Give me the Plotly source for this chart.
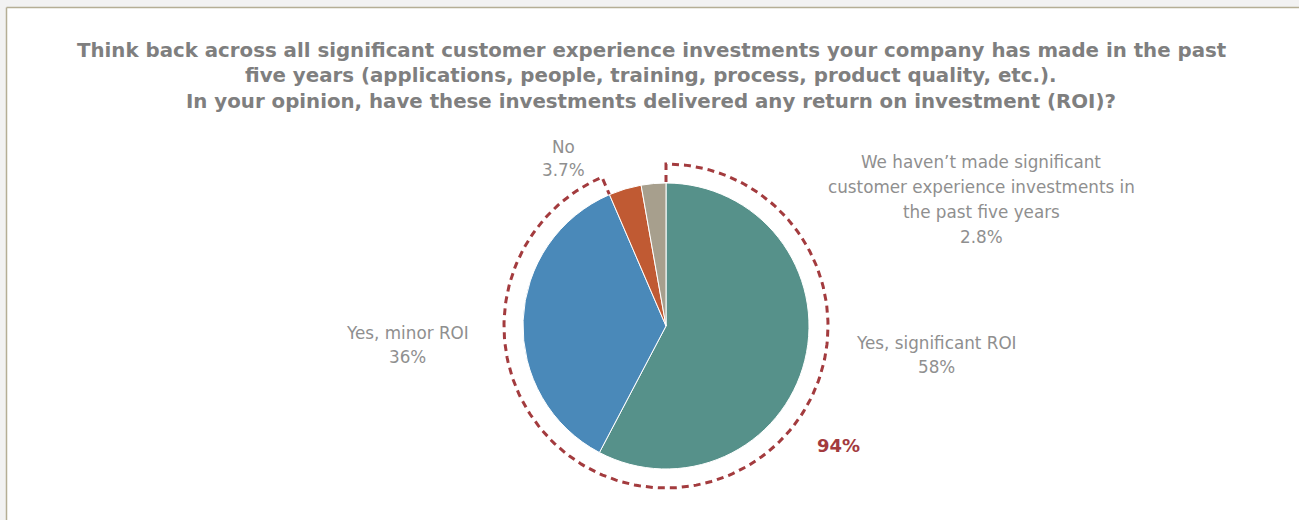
import numpy as np
import plotly.graph_objects as go

W, H = 1299, 520

# Survey answers (clockwise from 12 o'clock)
categories = [
    "Yes, significant ROI",
    "Yes, minor ROI",
    "No",
    "We haven\u2019t made significant customer experience investments in the past five years",
]
shares = [58, 36, 3.7, 2.8]
label_lines = [
    ["Yes, significant ROI"],
    ["Yes, minor ROI"],
    ["No"],
    ["We haven\u2019t made significant", "customer experience investments in", "the past five years"],
]
value_text = ["58%", "36%", "3.7%", "2.8%"]
colors = ["#56918A", "#4A89B9", "#C05A33", "#A79F8D"]
highlight_total = "94%"

title_lines = [
    "Think back across all significant customer experience investments your company has made in the past",
    "five years (applications, people, training, process, product quality, etc.).",
    "In your opinion, have these investments delivered any return on investment (ROI)?",
]

# pie geometry in pixels
cx, cy, r = 666, 326, 143
ring_r = 162

TITLE_FONT = "DejaVu Sans"
LABEL_FONT = "DejaVu Sans"
GREY = "#8f8f8f"
RED = "#A33B3E"

fig = go.Figure()

fig.add_trace(go.Pie(
    labels=categories,
    values=shares,
    sort=False,
    direction="clockwise",
    rotation=0,
    marker=dict(colors=colors, line=dict(color="white", width=1)),
    textinfo="none",
    hoverinfo="label+percent",
    showlegend=False,
    domain=dict(x=[(cx - r) / W, (cx + r) / W], y=[1 - (cy + r) / H, 1 - (cy - r) / H]),
))

# dashed outline around the "yes" slices: radial line up, arc clockwise, radial line back
yes_frac = (shares[0] + shares[1]) / sum(shares)
theta = np.linspace(0, 2 * np.pi * yes_frac, 200)
px = np.concatenate([[cx], cx + ring_r * np.sin(theta), [cx]])
py = np.concatenate([[cy], cy - ring_r * np.cos(theta), [cy]])
fig.add_trace(go.Scatter(
    x=px, y=py, mode="lines",
    line=dict(color=RED, width=3, dash="7px,5px"),
    hoverinfo="skip", showlegend=False,
))

annotations = []


def add_block(lines, x, y0, step, size, color, family, bold=False):
    for i, t in enumerate(lines):
        txt = f"<b>{t}</b>" if bold else t
        annotations.append(dict(
            x=x, y=y0 + i * step, xref="x", yref="y", text=txt, showarrow=False,
            xanchor="center", yanchor="middle",
            font=dict(family=family, size=size, color=color),
        ))


add_block(title_lines, 651, 50, 25.5, 19.8, "#7f7f7f", TITLE_FONT, bold=True)

label_pos = [(936, 343, 24), (407, 333, 24), (563, 147, 23), (981, 162, 25)]
for lines, val, (x, y, step) in zip(label_lines, value_text, label_pos):
    add_block(lines + [val], x, y, step, 16.8, GREY, LABEL_FONT)

add_block([highlight_total], 838, 445, 25, 18, RED, TITLE_FONT, bold=True)

# frame: grey outer strip with a thin border line
shapes = [
    dict(type="rect", xref="x", yref="y", x0=0, x1=W, y0=0, y1=7, fillcolor="#f2f2f2", line_width=0, layer="below"),
    dict(type="rect", xref="x", yref="y", x0=0, x1=6, y0=0, y1=H, fillcolor="#f2f2f2", line_width=0, layer="below"),
    dict(type="line", xref="x", yref="y", x0=6.5, x1=W, y0=7.5, y1=7.5, line=dict(color="#b5ae95", width=1.5), layer="below"),
    dict(type="line", xref="x", yref="y", x0=6.5, x1=6.5, y0=7.5, y1=H, line=dict(color="#b5ae95", width=1.5), layer="below"),
]

fig.update_layout(
    width=W, height=H,
    margin=dict(l=0, r=0, t=0, b=0),
    paper_bgcolor="white", plot_bgcolor="rgba(0,0,0,0)",
    xaxis=dict(range=[0, W], visible=False, domain=[0, 1], fixedrange=True),
    yaxis=dict(range=[H, 0], visible=False, domain=[0, 1], fixedrange=True),
    annotations=annotations,
    shapes=shapes,
)

fig.write_html("out.html")
